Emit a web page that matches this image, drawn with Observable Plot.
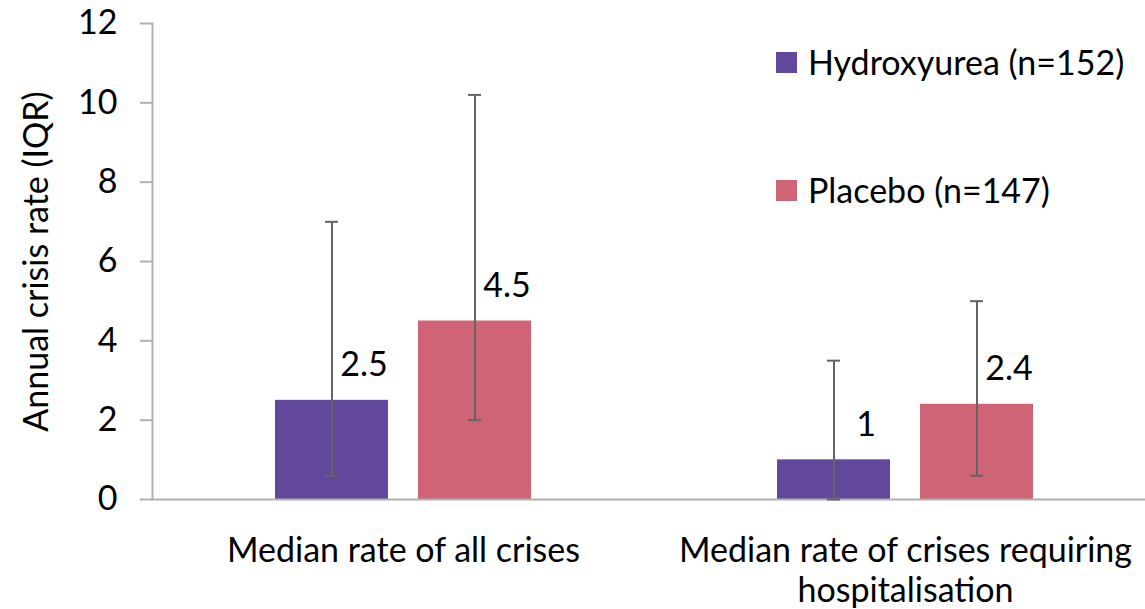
<!DOCTYPE html>
<html><head><meta charset="utf-8">
<script src="https://cdn.jsdelivr.net/npm/d3@7"></script>
<script src="https://cdn.jsdelivr.net/npm/@observablehq/plot@0.6"></script>
<style>
html,body{margin:0;padding:0;background:#fff;overflow:hidden;}
#wrap{position:relative;width:1145px;height:609px;overflow:hidden;font-family:Lato,"Open Sans",sans-serif;}
#wrap svg{display:block;max-width:none !important;}
.leg{position:absolute;left:776px;height:21px;display:flex;align-items:center;line-height:21px;font-size:34px;color:#000;white-space:nowrap;}
.leg .lt{position:relative;top:-1px;}
.sw{width:21px;height:21px;margin-right:11px;flex:none;}
</style></head><body><div id="wrap"></div>
<script>
const categories = ["Median rate of all crises", "Median rate of crises requiring hospitalisation"];
const series = ["Hydroxyurea (n=152)", "Placebo (n=147)"];
const medians = [[2.5, 4.5], [1, 2.4]];
const iqrLow = [[0.6, 2.0], [0, 0.6]];
const iqrHigh = [[7.0, 10.2], [3.5, 5.0]];
const yTicks = [0, 2, 4, 6, 8, 10, 12];
const colors = ["#61489a", "#d06477"];
const yLabel = "Annual crisis rate (IQR)";

const data = categories.flatMap((c, i) => series.map((s, j) => ({
  category: c, series: s, median: medians[i][j], low: iqrLow[i][j], high: iqrHigh[i][j]
})));

const axisGray = "#b0b0b0";
const whisker = "#646464";

const chart = Plot.plot({
  width: 1156, height: 609,
  marginTop: 23, marginBottom: 110, marginLeft: 152, marginRight: 0,
  style: {fontFamily: 'Lato, "Open Sans", sans-serif', fontSize: "34px", color: "#000", background: "#fff", maxWidth: "none"},
  fx: {domain: categories, paddingInner: 0, paddingOuter: 0, label: null},
  x: {domain: series, paddingInner: 0.212, paddingOuter: 0.861, axis: null},
  y: {domain: [0, 12], label: null},
  color: {domain: series, range: colors},
  marks: [
    Plot.barY(data, {fx: "category", x: "series", y: "median", fill: "series"}),
    Plot.ruleY([0], {stroke: axisGray, strokeWidth: 2}),
    Plot.frame({anchor: "left", facetAnchor: "left", stroke: axisGray, strokeWidth: 2}),
    Plot.ruleX(data, {fx: "category", x: "series", y1: "low", y2: "high", stroke: whisker, strokeWidth: 2}),
    Plot.tickY(data, {fx: "category", x: "series", y: "low", stroke: whisker, strokeWidth: 2, insetLeft: 50, insetRight: 50}),
    Plot.tickY(data, {fx: "category", x: "series", y: "high", stroke: whisker, strokeWidth: 2, insetLeft: 50, insetRight: 50}),
    Plot.text(data, {fx: "category", x: "series", y: "median", text: d => String(d.median), dx: 32, dy: -35, fontSize: 34, fill: "#000"}),
    Plot.axisY({ticks: yTicks, tickSize: 12, tickPadding: 23, stroke: axisGray, strokeWidth: 2, strokeOpacity: 1, fontSize: 34,
      label: yLabel, labelAnchor: "center", labelOffset: 129, labelArrow: "none"}),
    Plot.axisFx({anchor: "bottom", tickSize: 0, tickPadding: 34, fontSize: 34, label: null, lineHeight: 1.18,
      tickFormat: d => d.replace(" hospitalisation", "\nhospitalisation")})
  ]
});

const wrap = document.getElementById("wrap");
wrap.appendChild(chart);

const legendTops = [52, 180];
series.forEach((s, i) => {
  const row = document.createElement("div");
  row.className = "leg";
  row.style.top = legendTops[i] + "px";
  const sw = document.createElement("span");
  sw.className = "sw";
  sw.style.background = colors[i];
  const t = document.createElement("span");
  t.className = "lt";
  t.textContent = s;
  row.appendChild(sw);
  row.appendChild(t);
  wrap.appendChild(row);
});
</script>
</body></html>
